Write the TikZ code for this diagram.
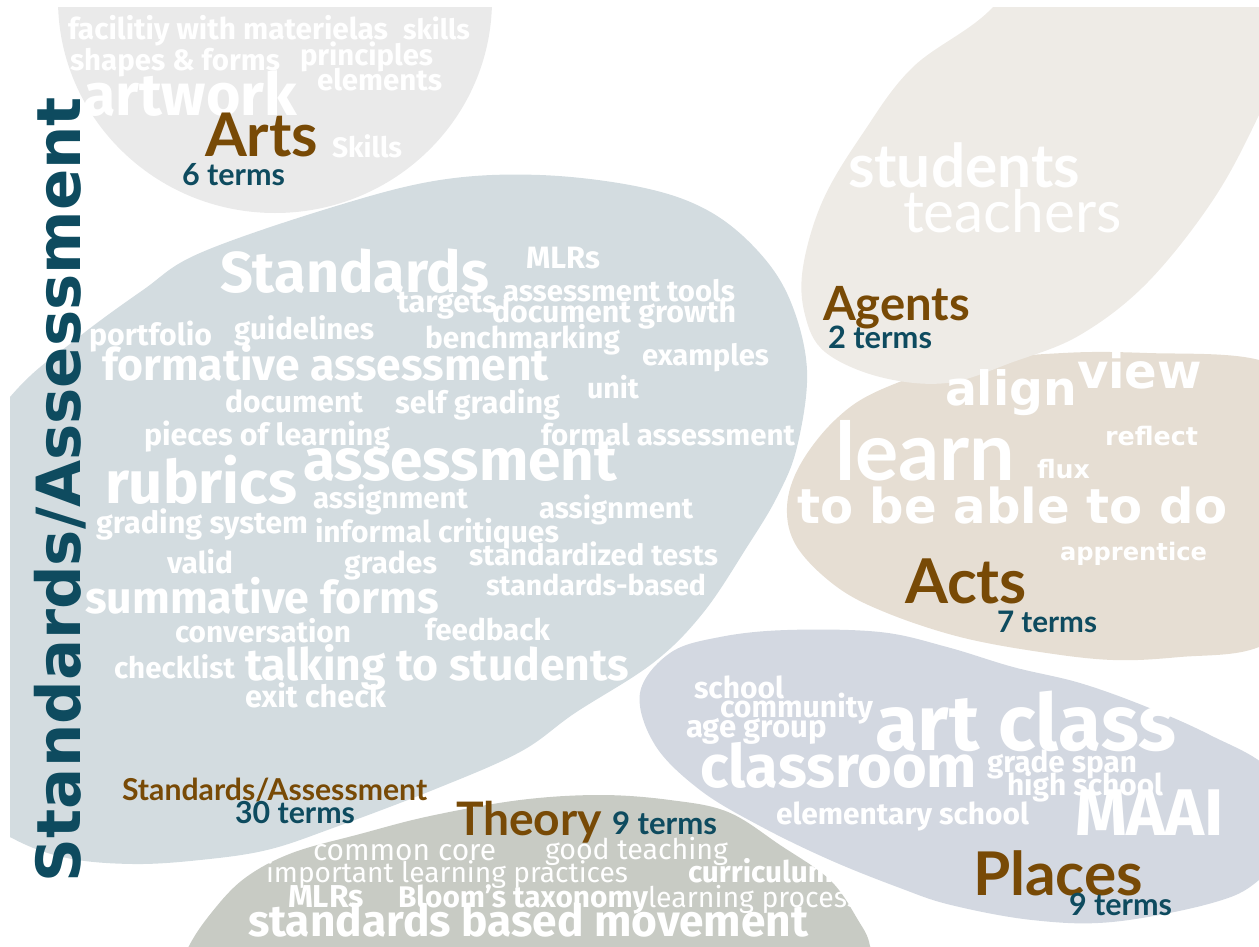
\documentclass[tikz,border=0pt]{standalone}
\usepackage{fontspec}
\usepackage{graphicx}
\setmainfont{Fira Sans}
\newfontfamily\lato{Lato}
\newfontfamily\dejavu{DejaVu Sans}

\definecolor{artsbg}{HTML}{EAEAEA}
\definecolor{stdbg}{HTML}{D3DCE0}
\definecolor{agtbg}{HTML}{EEEBE6}
\definecolor{actbg}{HTML}{E6DED3}
\definecolor{plcbg}{HTML}{D3D8E1}
\definecolor{thybg}{HTML}{C8CBC4}
\definecolor{labelbrown}{HTML}{784A06}
\definecolor{termteal}{HTML}{0E4B5F}

\newcounter{wcn}
% word: style, left x, baseline y, width, text
\newcommand\wc[5]{\stepcounter{wcn}\node[#1] (w\arabic{wcn}) at (#2,#3) {\resizebox{#4pt}{!}{#5}};}

\tikzset{
  wbase/.style={anchor=base west, inner sep=0pt, outer sep=0pt},
  bw/.style={wbase, text=white, font=\bfseries},
  lw/.style={wbase, text=white, font=\mdseries},
  vw/.style={wbase, text=white, font=\dejavu\bfseries},
  sw/.style={wbase, text=white, font=\lato\bfseries},
  tw/.style={wbase, text=white, font=\lato},
  lab/.style={wbase, text=labelbrown, font=\lato\bfseries},
  cnt/.style={wbase, text=termteal, font=\lato\bfseries},
}

\begin{document}
\begin{tikzpicture}[x=1pt,y=-1pt]
\useasboundingbox (0,0) rectangle (1259,946);

\begin{scope}
\clip (10,7) rectangle (1259,946);
% Arts
\fill[artsbg] (275,0) ellipse [x radius=217, y radius=213];
% Standards/Assessment
\fill[stdbg] plot[smooth cycle, tension=0.6] coordinates {
  (-80,520) (10,397) (75,340) (143,290) (200,253) (333,207) (440,180)
  (540,175) (640,187) (707,210) (757,250) (790,300) (807,370) (797,447)
  (777,497) (747,547) (703,613) (653,663) (575,713) (520,752) (433,790)
  (333,828) (267,850) (200,860) (133,864) (67,858) (12,838) (-40,800)};
% Acts
\fill[actbg] plot[smooth cycle, tension=0.6] coordinates {
  (1147,353) (1063,353) (963,363) (880,390) (835,420) (800,465) (787,507)
  (797,547) (837,587) (887,613) (960,637) (1040,652) (1113,660) (1180,657)
  (1259,647) (1320,600) (1320,400) (1259,360)};
% Agents
\fill[agtbg] plot[smooth cycle, tension=0.6] coordinates {
  (1050,-80) (993,7) (913,67) (863,133) (823,200) (803,267) (805,315)
  (825,352) (880,377) (947,383) (1013,362) (1080,335) (1147,283)
  (1213,200) (1259,115) (1300,20) (1320,-80)};
% Places
\fill[plcbg] plot[smooth cycle, tension=0.6] coordinates {
  (640,693) (670,653) (720,637) (787,630) (880,632) (947,647) (1013,667)
  (1080,683) (1147,707) (1210,735) (1270,770) (1300,830) (1259,880)
  (1212,903) (1112,922) (1032,920) (951,905) (900,888) (830,860)
  (760,826) (700,790) (655,745)};
% Theory
\fill[thybg] plot[smooth cycle, tension=0.6] coordinates {
  (187,950) (212,912) (245,878) (292,853) (360,834) (430,816) (520,800)
  (600,795) (670,800) (728,812) (780,845) (830,880) (858,920) (870,946)
  (872,990) (530,1060) (170,1000)};
\end{scope}

% vertical title
\node[wbase, rotate=90, text=termteal, font=\dejavu\bfseries] (title) at (80,882)
  {\resizebox{785pt}{!}{Standards/Assessment}};

% Arts words
\wc{bw}{68}{39}{320}{facilitiy with materielas}
\wc{bw}{403}{39}{67}{skills}
\wc{bw}{70}{70}{210}{shapes \& forms}
\wc{bw}{300}{65}{133}{principles}
\wc{bw}{317}{90}{125}{elements}
\wc{bw}{83}{115}{214}{artwork}
\wc{lab}{205}{156}{113}{Arts}
\wc{bw}{332}{157}{70}{Skills}
\wc{cnt}{182}{185}{103}{6 terms}

% Standards/Assessment words
\wc{bw}{220}{292}{269}{Standards}
\wc{bw}{526}{268}{74}{MLRs}
\wc{bw}{503}{301}{232}{assessment tools}
\wc{bw}{397}{312}{100}{targets}
\wc{bw}{492}{322}{244}{document growth}
\wc{bw}{89}{345}{123}{portfolio}
\wc{bw}{234}{339}{140}{guidelines}
\wc{bw}{425}{348}{195}{benchmarking}
\wc{bw}{102}{380}{447}{formative assessment}
\wc{bw}{642}{365}{127}{examples}
\wc{bw}{587}{398}{52}{unit}
\wc{bw}{225}{412}{138}{document}
\wc{bw}{395}{413}{165}{self grading}
\wc{bw}{144}{445}{246}{pieces of learning}
\wc{bw}{541}{445}{254}{formal assessment}
\wc{bw}{303}{480}{314}{assessment}
\wc{bw}{105}{503}{192}{rubrics}
\wc{bw}{313}{508}{155}{assignment}
\wc{bw}{539}{518}{154}{assignment}
\wc{bw}{96}{533}{212}{grading system}
\wc{bw}{315}{542}{244}{informal critiques}
\wc{bw}{469}{565}{249}{standardized tests}
\wc{bw}{167}{573}{66}{valid}
\wc{bw}{344}{573}{93}{grades}
\wc{bw}{486}{595}{220}{standards-based}
\wc{bw}{85}{613}{354}{summative forms}
\wc{bw}{175}{642}{176}{conversation}
\wc{bw}{425}{640}{125}{feedback}
\wc{bw}{114}{678}{121}{checklist}
\wc{bw}{245}{680}{384}{talking to students}
\wc{bw}{245}{707}{141}{exit check}
\wc{lab}{122}{800}{305}{Standards/Assessment}
\wc{cnt}{235}{823}{120}{30 terms}

% Agents words
\wc{sw}{848}{187}{232}{students}
\wc{tw}{903}{232}{219}{teachers}
\wc{lab}{823}{320}{147}{Agents}
\wc{cnt}{828}{348}{104}{2 terms}

% Acts words
\wc{vw}{945}{405}{132}{align}
\wc{vw}{1077}{388}{125}{view}
\wc{sw}{835}{480}{180}{learn}
\wc{vw}{1105}{445}{93}{reflect}
\wc{vw}{1037}{478}{53}{flux}
\wc{vw}{797}{523}{430}{to be able to do}
\wc{vw}{1060}{560}{147}{apprentice}
\wc{lab}{905}{603}{122}{Acts}
\wc{cnt}{997}{632}{100}{7 terms}

% Places words
\wc{bw}{694}{698}{90}{school}
\wc{bw}{720}{717}{153}{community}
\wc{bw}{686}{737}{141}{age group}
\wc{bw}{875}{750}{301}{art class}
\wc{bw}{700}{787}{277}{classroom}
\wc{bw}{987}{772}{150}{grade span}
\wc{bw}{1007}{795}{156}{high school}
\wc{bw}{776}{824}{253}{elementary school}
\wc{bw}{1075}{835}{149}{MAAI}
\wc{lab}{973}{895}{170}{Places}
\wc{cnt}{1069}{915}{103}{9 terms}

% Theory words
\wc{lab}{456}{835}{146}{Theory}
\wc{cnt}{612}{834}{105}{9 terms}
\wc{lw}{313}{860}{183}{common core}
\wc{lw}{545}{859}{183}{good teaching}
\wc{lw}{266}{882}{362}{important learning practices}
\wc{bw}{688}{882}{145}{curriculum}
\wc{bw}{288}{907}{76}{MLRs}
\wc{bw}{398}{907}{250}{Bloom’s taxonomy}
\wc{lw}{648}{907}{212}{learning process}
\wc{bw}{248}{936}{560}{standards based movement}
\end{tikzpicture}
\end{document}
